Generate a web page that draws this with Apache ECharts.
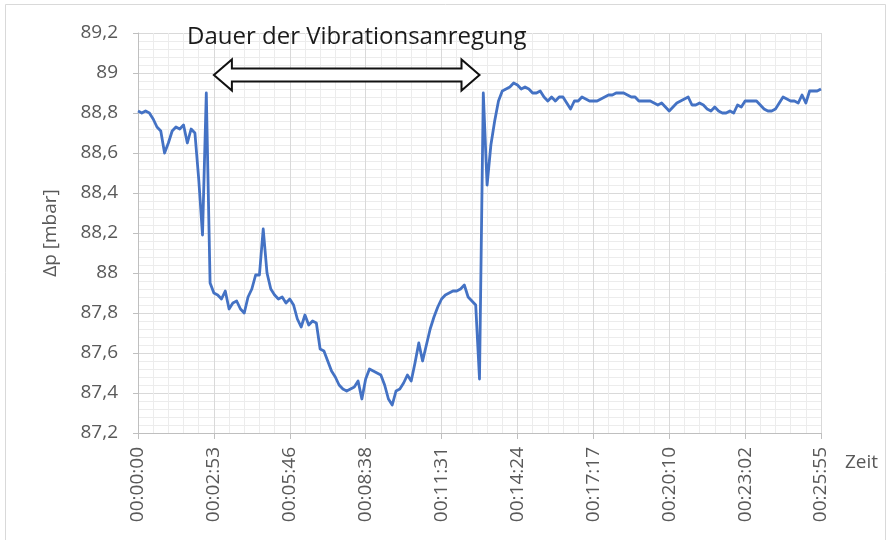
<!DOCTYPE html>
<html>
<head>
<meta charset="utf-8">
<script src="https://cdn.jsdelivr.net/npm/echarts@6/dist/echarts.min.js"></script>
<style>
  html, body { margin: 0; padding: 0; background: #ffffff; }
  #chart { width: 892px; height: 540px; }
</style>
</head>
<body>
<div id="chart"></div>
<script>
// Sampling step of the pressure logger, in seconds
const SAMPLE_STEP_S = 8.64;
// Spacing of the labelled time ticks, in seconds
const TICK_STEP_S = 172.8;

// Differential pressure Δp [mbar], one value per sample
const pressure = [
  88.81, 88.80, 88.81, 88.80, 88.77, 88.73, 88.71, 88.60, 88.65, 88.71, 88.73, 88.72, 88.74, 88.65, 88.72, 88.70, 88.47, 88.19, 88.90, 87.95,
  87.90, 87.89, 87.87, 87.91, 87.82, 87.85, 87.86, 87.82, 87.80, 87.88, 87.92, 87.99, 87.99, 88.22, 88.00, 87.92, 87.89, 87.87, 87.88, 87.85,
  87.87, 87.84, 87.77, 87.73, 87.79, 87.74, 87.76, 87.75, 87.62, 87.61, 87.56, 87.51, 87.48, 87.44, 87.42, 87.41, 87.42, 87.43, 87.46, 87.37,
  87.47, 87.52, 87.51, 87.50, 87.49, 87.44, 87.37, 87.34, 87.41, 87.42, 87.45, 87.49, 87.46, 87.55, 87.65, 87.56, 87.64, 87.72, 87.78, 87.83,
  87.87, 87.89, 87.90, 87.91, 87.91, 87.92, 87.94, 87.88, 87.86, 87.84, 87.47, 88.90, 88.44, 88.64, 88.76, 88.86, 88.91, 88.92, 88.93, 88.95,
  88.94, 88.92, 88.93, 88.92, 88.90, 88.90, 88.91, 88.88, 88.86, 88.88, 88.86, 88.88, 88.88, 88.85, 88.82, 88.86, 88.86, 88.88, 88.87, 88.86,
  88.86, 88.86, 88.87, 88.88, 88.89, 88.89, 88.90, 88.90, 88.90, 88.89, 88.88, 88.88, 88.86, 88.86, 88.86, 88.86, 88.85, 88.84, 88.85, 88.83,
  88.81, 88.83, 88.85, 88.86, 88.87, 88.88, 88.84, 88.84, 88.85, 88.84, 88.82, 88.81, 88.83, 88.81, 88.80, 88.80, 88.81, 88.80, 88.84, 88.83,
  88.86, 88.86, 88.86, 88.86, 88.84, 88.82, 88.81, 88.81, 88.82, 88.85, 88.88, 88.87, 88.86, 88.86, 88.85, 88.89, 88.85, 88.91, 88.91, 88.91, 88.92
];

// Time axis tick labels (hh:mm:ss)
const timeTickLabels = [
  '00:00:00', '00:02:53', '00:05:46', '00:08:38', '00:11:31',
  '00:14:24', '00:17:17', '00:20:10', '00:23:02', '00:25:55'
];

// Vibration excitation window (seconds) and the level of the marker arrow
const excitation = { start: 172.8, end: 777.6, level: 88.99 };

const FONT = '"Open Sans", "DejaVu Sans", sans-serif';
const AXIS_GREY = '#bfbfbf';
const LABEL_GREY = '#595959';

const seriesData = pressure.map((v, i) => [i * SAMPLE_STEP_S, v]);

const chart = echarts.init(document.getElementById('chart'), null, { renderer: 'canvas' });

chart.setOption({
  animation: false,
  backgroundColor: '#ffffff',
  textStyle: { fontFamily: FONT },
  title: {
    text: 'Dauer der Vibrationsanregung',
    left: 187,
    top: 25,
    padding: 0,
    textStyle: { fontFamily: FONT, fontSize: 24, fontWeight: 'normal', color: '#1a1a1a' }
  },
  grid: { left: 138, right: 71, top: 33, bottom: 107, containLabel: false },
  xAxis: {
    type: 'value',
    min: 0,
    max: (timeTickLabels.length - 1) * TICK_STEP_S,
    interval: TICK_STEP_S,
    axisLine: { show: true, lineStyle: { color: AXIS_GREY, width: 1 } },
    axisTick: { show: true, length: 6, lineStyle: { color: AXIS_GREY } },
    axisLabel: {
      rotate: 90,
      margin: 14,
      fontFamily: FONT,
      fontSize: 19,
      color: LABEL_GREY,
      formatter: v => timeTickLabels[Math.round(v / TICK_STEP_S)] || ''
    },
    splitLine: { show: true, lineStyle: { color: '#d9d9d9', width: 1 } },
    minorTick: { show: false, splitNumber: 5 },
    minorSplitLine: { show: true, lineStyle: { color: '#ececec', width: 1 } }
  },
  yAxis: {
    type: 'value',
    min: 87.2,
    max: 89.2,
    interval: 0.2,
    name: 'Δp [mbar]',
    nameLocation: 'middle',
    nameGap: 78,
    nameTextStyle: { fontFamily: FONT, fontSize: 19, color: LABEL_GREY },
    axisLine: { show: true, lineStyle: { color: AXIS_GREY, width: 1 } },
    axisTick: { show: true, length: 5, lineStyle: { color: AXIS_GREY } },
    axisLabel: {
      margin: 20,
      fontFamily: FONT,
      fontSize: 19,
      color: LABEL_GREY,
      formatter: v => String(Math.round(v * 10) / 10).replace('.', ',')
    },
    splitLine: { show: true, lineStyle: { color: '#d9d9d9', width: 1 } },
    minorTick: { show: false, splitNumber: 5 },
    minorSplitLine: { show: true, lineStyle: { color: '#ececec', width: 1 } }
  },
  series: [{
    type: 'line',
    data: seriesData,
    showSymbol: false,
    symbol: 'none',
    smooth: false,
    lineStyle: { color: '#4472c4', width: 2.8, join: 'round' },
    z: 3
  }]
});

// Double-headed hollow arrow spanning the excitation window
function arrowPoints() {
  const a = chart.convertToPixel({ gridIndex: 0 }, [excitation.start, excitation.level]);
  const b = chart.convertToPixel({ gridIndex: 0 }, [excitation.end, excitation.level]);
  const y = a[1];
  const head = 18, headH = 15.5, shaftH = 6.5;
  return [
    [a[0], y],
    [a[0] + head, y - headH],
    [a[0] + head, y - shaftH],
    [b[0] - head, y - shaftH],
    [b[0] - head, y - headH],
    [b[0], y],
    [b[0] - head, y + headH],
    [b[0] - head, y + shaftH],
    [a[0] + head, y + shaftH],
    [a[0] + head, y + headH]
  ];
}

// Time axis title, placed just right of the axis end, below the axis line
const axisEnd = chart.convertToPixel({ gridIndex: 0 }, [(timeTickLabels.length - 1) * TICK_STEP_S, 87.2]);

chart.setOption({
  graphic: [
    {
      type: 'rect',
      silent: true,
      shape: { x: 5.5, y: 4.5, width: 880, height: 545 },
      style: { fill: 'none', stroke: '#d9d9d9', lineWidth: 1 },
      z: 0
    },
    {
      type: 'polygon',
      silent: true,
      shape: { points: arrowPoints() },
      style: { fill: '#ffffff', stroke: '#111111', lineWidth: 2, lineJoin: 'miter' },
      z: 10
    },
    {
      type: 'text',
      silent: true,
      x: axisEnd[0] + 24,
      y: axisEnd[1] + 30,
      style: {
        text: 'Zeit',
        fill: LABEL_GREY,
        font: '19px ' + FONT,
        textAlign: 'left',
        textVerticalAlign: 'middle'
      },
      z: 10
    }
  ]
});
</script>
</body>
</html>
